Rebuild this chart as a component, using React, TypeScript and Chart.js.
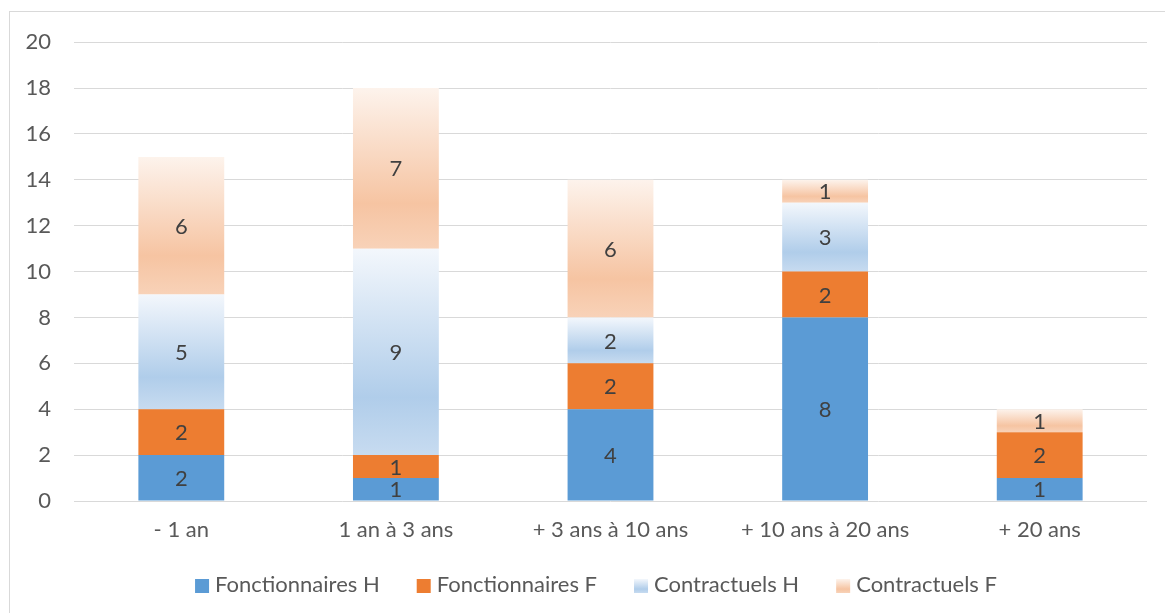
import React, { useEffect, useRef } from "react";
import { Chart, registerables } from "chart.js";

Chart.register(...registerables);

const categories = ["- 1 an", "1 an à 3 ans", "+ 3 ans à 10 ans", "+ 10 ans à 20 ans", "+ 20 ans"];
const fonctionnairesH = [2, 1, 4, 8, 1];
const fonctionnairesF = [2, 1, 2, 2, 2];
const contractuelsH = [5, 9, 2, 3, 0];
const contractuelsF = [6, 7, 6, 1, 1];
const seriesNames = ["Fonctionnaires H", "Fonctionnaires F", "Contractuels H", "Contractuels F"];
const yTicks = [0, 2, 4, 6, 8, 10, 12, 14, 16, 18, 20];

const FONT = "Lato, 'Noto Sans', sans-serif";
const FS = 22;
const allSeries = [fonctionnairesH, fonctionnairesF, contractuelsH, contractuelsF];
const solidColors = ["#5B9BD5", "#ED7D31", "#BDD7EE", "#F8CBAD"];

const gradStops: Record<number, [number, string][]> = {
  2: [
    [0, "#F3F7FC"],
    [0.72, "#B0CDEA"],
    [1, "#C7DBF0"],
  ],
  3: [
    [0, "#FDF3EC"],
    [0.72, "#F6C4A2"],
    [1, "#F8D2B8"],
  ],
};

function makeGradient(ctx: CanvasRenderingContext2D, ds: number, yTop: number, yBot: number) {
  const g = ctx.createLinearGradient(0, yTop, 0, yBot);
  gradStops[ds].forEach(([o, c]) => g.addColorStop(o, c));
  return g;
}

function gradientFor(ds: number, fallback: string) {
  return (ctx: any) => {
    const chart = ctx.chart;
    const y = chart.scales && chart.scales.y;
    if (!chart.chartArea || !y || ctx.type !== "data") return fallback;
    const i = ctx.dataIndex;
    let start = 0;
    for (let k = 0; k < ds; k++) start += allSeries[k][i];
    const end = start + allSeries[ds][i];
    const yTop = y.getPixelForValue(end);
    const yBot = y.getPixelForValue(start);
    if (!isFinite(yTop) || !isFinite(yBot) || yTop === yBot) return fallback;
    return makeGradient(chart.ctx, ds, yTop, yBot);
  };
}

const valueLabels = {
  id: "valueLabels",
  afterDatasetsDraw(chart: any) {
    const ctx = chart.ctx;
    ctx.save();
    ctx.font = `${FS}px ${FONT}`;
    ctx.fillStyle = "#404040";
    ctx.textAlign = "center";
    ctx.textBaseline = "middle";
    chart.data.datasets.forEach((ds: any, di: number) => {
      const meta = chart.getDatasetMeta(di);
      meta.data.forEach((el: any, i: number) => {
        const v = ds.data[i];
        if (!v) return;
        ctx.fillText(String(v), el.x, (el.y + el.base) / 2 + 1);
      });
    });
    ctx.restore();
  },
};

const bottomLegend = {
  id: "bottomLegend",
  afterDraw(chart: any) {
    const ctx = chart.ctx;
    ctx.save();
    ctx.font = `${FS}px ${FONT}`;
    ctx.textBaseline = "middle";
    ctx.textAlign = "left";
    const box = 14;
    const textGap = 20;
    const itemGap = 37;
    const names = chart.data.datasets.map((d: any) => d.label);
    const widths = names.map((n: string) => textGap + ctx.measureText(n).width);
    const total = widths.reduce((a: number, b: number) => a + b, 0) + itemGap * (names.length - 1);
    const cy = chart.chartArea.bottom + 84;
    let x = chart.width / 2 + 6 - total / 2;
    names.forEach((n: string, k: number) => {
      const top = cy - box / 2 + 1;
      if (k >= 2) {
        ctx.fillStyle = makeGradient(ctx, k, top, top + box);
      } else {
        ctx.fillStyle = solidColors[k];
      }
      ctx.fillRect(x, top, box, box);
      ctx.fillStyle = "#595959";
      ctx.fillText(n, x + textGap, cy);
      x += widths[k] + itemGap;
    });
    ctx.restore();
  },
};

export default function App() {
  const ref = useRef<HTMLCanvasElement>(null);
  useEffect(() => {
    document.body.style.overflow = "hidden";
    const chart = new Chart(ref.current!, {
      type: "bar",
      data: {
        labels: categories,
        datasets: [
          { label: seriesNames[0], data: fonctionnairesH, backgroundColor: solidColors[0] },
          { label: seriesNames[1], data: fonctionnairesF, backgroundColor: solidColors[1] },
          { label: seriesNames[2], data: contractuelsH, backgroundColor: gradientFor(2, solidColors[2]) },
          { label: seriesNames[3], data: contractuelsF, backgroundColor: gradientFor(3, solidColors[3]) },
        ].map((d) => ({ ...d, categoryPercentage: 1, barPercentage: 0.4, borderWidth: 0 })),
      },
      options: {
        animation: false,
        responsive: false,
        layout: { padding: { top: 23, right: 23, bottom: 52, left: 0 } },
        scales: {
          x: {
            stacked: true,
            grid: { display: false, drawTicks: false },
            border: { display: false },
            ticks: { color: "#595959", font: { family: FONT, size: FS }, padding: 16, maxRotation: 0 },
            afterFit: (s: any) => {
              s.height = 60;
            },
          },
          y: {
            stacked: true,
            min: 0,
            max: 20,
            afterBuildTicks: (s: any) => {
              s.ticks = yTicks.map((v) => ({ value: v }));
            },
            grid: { color: "#D9D9D9", lineWidth: 1, drawTicks: false },
            border: { display: false },
            ticks: { color: "#595959", font: { family: FONT, size: FS }, padding: 23 },
            afterFit: (s: any) => {
              s.width = 64;
            },
          },
        },
        plugins: {
          tooltip: { enabled: false },
          legend: { display: false },
        },
      },
      plugins: [valueLabels, bottomLegend],
    });
    return () => chart.destroy();
  }, []);
  return (
    <div
      style={{
        position: "absolute",
        left: 9,
        top: 11,
        width: 1170,
        height: 610,
        border: "1px solid #D9D9D9",
        boxSizing: "border-box",
        overflow: "hidden",
      }}
    >
      <canvas ref={ref} width={1160} height={607} style={{ display: "block", marginTop: -6 }} />
    </div>
  );
}
